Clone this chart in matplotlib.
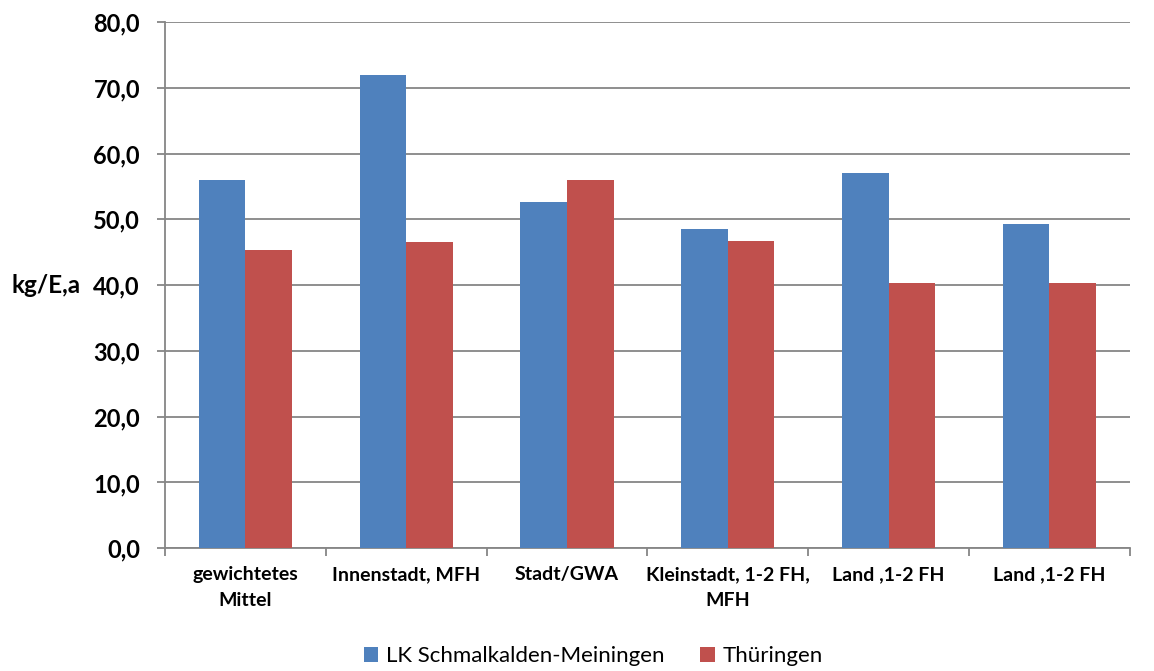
import numpy as np
import matplotlib.pyplot as plt

plt.rcParams['font.family'] = ['Lato', 'DejaVu Sans']

categories = ['gewichtetes\nMittel', 'Innenstadt, MFH', 'Stadt/GWA',
              'Kleinstadt, 1-2 FH,\nMFH', 'Land ,1-2 FH', 'Land ,1-2 FH']
lk_values = [56.0, 72.0, 52.6, 48.6, 57.0, 49.3]
th_values = [45.3, 46.6, 56.0, 46.7, 40.3, 40.3]
series_names = ['LK Schmalkalden-Meiningen', 'Thüringen']
yticks = [0, 10, 20, 30, 40, 50, 60, 70, 80]

blue = '#4F81BD'
red = '#C0504D'
grid_col = '#868686'

fig = plt.figure(figsize=(11.54, 6.71), dpi=100)
ax = fig.add_axes([0.143, 0.183, 0.836, 0.784])

x = np.arange(len(categories))
w = 0.29
ax.bar(x - w / 2, lk_values, w, color=blue, label=series_names[0], zorder=3)
ax.bar(x + w / 2, th_values, w, color=red, label=series_names[1], zorder=3)

ax.set_xlim(-0.5, len(categories) - 0.5)
ax.set_ylim(0, 80)
ax.set_yticks(yticks)
ax.set_yticklabels([f'{v:.1f}'.replace('.', ',') for v in yticks],
                   fontsize=17, fontweight='bold')
ax.yaxis.grid(True, color=grid_col, linewidth=1.3, zorder=0)

ax.set_xticks(x)
ax.set_xticklabels(categories, fontsize=14, fontweight='bold', linespacing=1.6)
ax.tick_params(axis='x', length=0, pad=13)
ax.set_xticks(np.arange(-0.5, len(categories)), minor=True)
ax.tick_params(axis='x', which='minor', length=6, color=grid_col, width=1.3)
ax.tick_params(axis='y', length=6, color=grid_col, width=1.3, pad=12)

for s in ['top', 'right']:
    ax.spines[s].set_visible(False)
for s in ['left', 'bottom']:
    ax.spines[s].set_color(grid_col)
    ax.spines[s].set_linewidth(1.3)

fig.text(0.010, ax.transAxes.transform((0, 0.5))[1] / fig.bbox.height, 'kg/E,a',
         fontsize=17.5, fontweight='bold', va='center', ha='left')

fig.legend(loc='center', bbox_to_anchor=(0.514, 0.022), ncol=2, frameon=False,
           fontsize=16, handlelength=0.65, handleheight=0.65, handletextpad=0.35,
           columnspacing=1.6)

fig.savefig('out.png', dpi=100)
